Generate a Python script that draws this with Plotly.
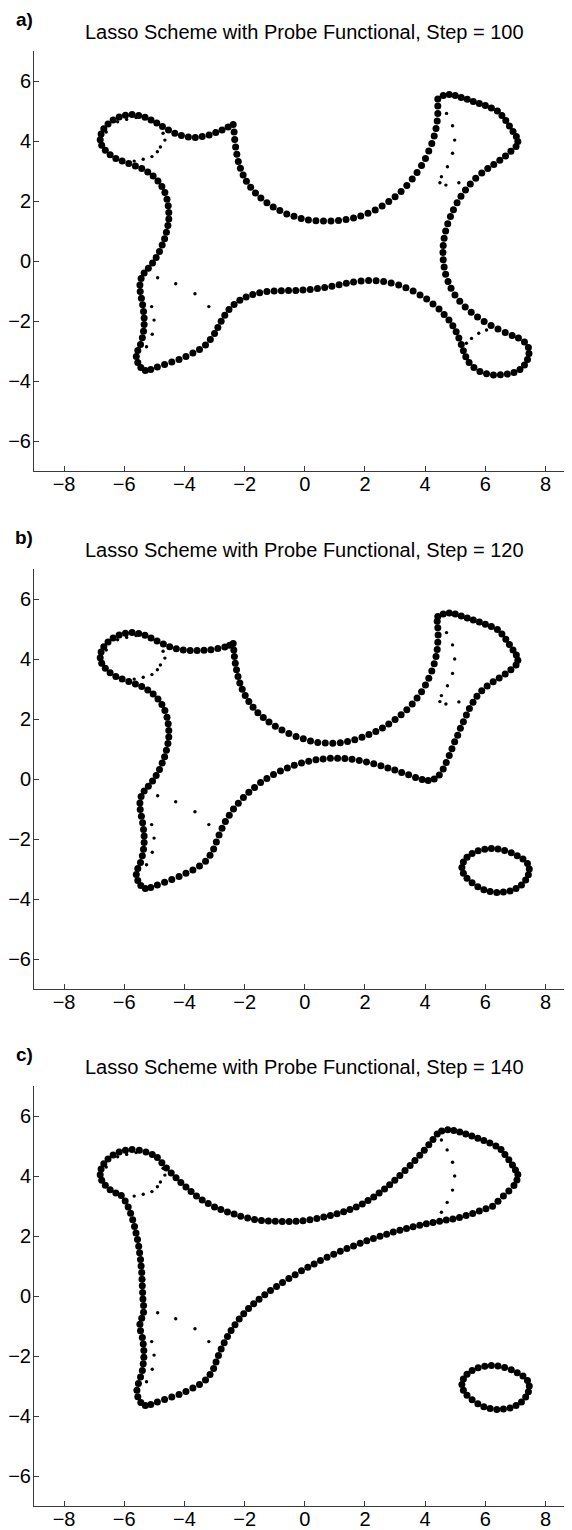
import plotly.graph_objects as go

# ---------------- data (data units) ----------------
titles = ["Lasso Scheme with Probe Functional, Step = 100",
          "Lasso Scheme with Probe Functional, Step = 120",
          "Lasso Scheme with Probe Functional, Step = 140"]
labels = ["a)", "b)", "c)"]
x_ticks = [-8, -6, -4, -2, 0, 2, 4, 6, 8]
y_ticks = [-6, -4, -2, 0, 2, 4, 6]

# panel a: lasso particles (big dots)
lasso_a = [
    (-2.38, 4.55), (-2.35, 4.3), (-2.33, 4.05), (-2.3, 3.8), (-2.26, 3.56), (-2.21, 3.32),
    (-2.14, 3.09), (-2.05, 2.87), (-1.94, 2.66), (-1.8, 2.46), (-1.64, 2.27), (-1.46, 2.1),
    (-1.26, 1.94), (-1.05, 1.8), (-0.83, 1.68), (-0.6, 1.57), (-0.36, 1.49), (-0.12, 1.42),
    (0.12, 1.37), (0.37, 1.34), (0.62, 1.33), (0.87, 1.33), (1.12, 1.35), (1.37, 1.38),
    (1.62, 1.43), (1.86, 1.5), (2.1, 1.59), (2.34, 1.7), (2.57, 1.83), (2.79, 1.98),
    (3.0, 2.14), (3.2, 2.32), (3.39, 2.52), (3.57, 2.73), (3.73, 2.95), (3.88, 3.18),
    (4.01, 3.42), (4.12, 3.67), (4.22, 3.92), (4.3, 4.17), (4.36, 4.42), (4.4, 4.67),
    (4.42, 4.92), (4.42, 5.17), (4.42, 5.4),
    (4.6, 5.52), (4.8, 5.55), (5.0, 5.52), (5.2, 5.45), (5.4, 5.39), (5.6, 5.32), (5.8, 5.25),
    (6.0, 5.18), (6.2, 5.1), (6.4, 5.0), (6.55, 4.85), (6.68, 4.68), (6.8, 4.5), (6.92, 4.32),
    (7.03, 4.15), (7.08, 3.98), (7.02, 3.82),
    (6.85, 3.66), (6.67, 3.5), (6.48, 3.36), (6.28, 3.22), (6.08, 3.08), (5.88, 2.93),
    (5.68, 2.76), (5.5, 2.57), (5.34, 2.37), (5.19, 2.16), (5.06, 1.94), (4.94, 1.71),
    (4.84, 1.48), (4.75, 1.24), (4.68, 1.0), (4.63, 0.76), (4.6, 0.52), (4.59, 0.28),
    (4.6, 0.04), (4.63, -0.2), (4.68, -0.44), (4.76, -0.68), (4.86, -0.91), (4.99, -1.13),
    (5.15, -1.34), (5.33, -1.53), (5.53, -1.71), (5.74, -1.87), (5.96, -2.02), (6.19, -2.15),
    (6.42, -2.27), (6.66, -2.38), (6.89, -2.48), (7.1, -2.57), (7.3, -2.7), (7.43, -2.88),
    (7.45, -3.08), (7.4, -3.28), (7.3, -3.47), (7.15, -3.62), (6.95, -3.72), (6.73, -3.77),
    (6.5, -3.79), (6.27, -3.8), (6.04, -3.76), (5.82, -3.68), (5.62, -3.55), (5.46, -3.38),
    (5.35, -3.19), (5.27, -2.99), (5.2, -2.78), (5.12, -2.57), (5.03, -2.36), (4.92, -2.16),
    (4.79, -1.97), (4.63, -1.78), (4.46, -1.6), (4.26, -1.43), (4.05, -1.27), (3.83, -1.13),
    (3.6, -1.0), (3.36, -0.89), (3.12, -0.8), (2.87, -0.73), (2.62, -0.68), (2.37, -0.66),
    (2.12, -0.65), (1.87, -0.67), (1.62, -0.7), (1.38, -0.74), (1.14, -0.79), (0.9, -0.84),
    (0.66, -0.88), (0.42, -0.92), (0.18, -0.95), (-0.06, -0.97), (-0.3, -0.98), (-0.54, -0.98),
    (-0.78, -0.99), (-1.02, -1.0), (-1.26, -1.02), (-1.5, -1.06), (-1.73, -1.12), (-1.95, -1.2),
    (-2.16, -1.31), (-2.35, -1.45), (-2.52, -1.62), (-2.66, -1.81), (-2.78, -2.01), (-2.89, -2.22),
    (-3.0, -2.42), (-3.14, -2.62), (-3.3, -2.8), (-3.5, -2.95), (-3.72, -3.07), (-3.95, -3.18),
    (-4.18, -3.28), (-4.42, -3.37), (-4.66, -3.45), (-4.9, -3.53), (-5.12, -3.62), (-5.3, -3.65),
    (-5.45, -3.55), (-5.55, -3.38), (-5.6, -3.18), (-5.55, -2.98), (-5.46, -2.78), (-5.4, -2.56),
    (-5.36, -2.34), (-5.34, -2.12), (-5.34, -1.9), (-5.36, -1.68), (-5.39, -1.46), (-5.43, -1.24),
    (-5.47, -1.02), (-5.48, -0.8), (-5.44, -0.58), (-5.34, -0.4), (-5.2, -0.24), (-5.06, -0.07),
    (-4.94, 0.12), (-4.83, 0.32), (-4.74, 0.53), (-4.66, 0.74), (-4.6, 0.96), (-4.55, 1.18),
    (-4.52, 1.4), (-4.52, 1.62), (-4.54, 1.84), (-4.58, 2.06), (-4.65, 2.28), (-4.75, 2.48),
    (-4.88, 2.67), (-5.04, 2.83), (-5.22, 2.97), (-5.42, 3.08), (-5.63, 3.17), (-5.85, 3.25),
    (-6.07, 3.33), (-6.28, 3.42), (-6.47, 3.54), (-6.63, 3.69), (-6.75, 3.86), (-6.8, 4.04),
    (-6.77, 4.23), (-6.68, 4.41), (-6.54, 4.57), (-6.37, 4.7), (-6.17, 4.8), (-5.96, 4.86),
    (-5.74, 4.88), (-5.52, 4.85), (-5.31, 4.79), (-5.11, 4.7), (-4.92, 4.6), (-4.73, 4.48),
    (-4.53, 4.37), (-4.32, 4.26), (-4.1, 4.18), (-3.87, 4.13), (-3.64, 4.12), (-3.41, 4.15),
    (-3.18, 4.2), (-2.96, 4.28), (-2.75, 4.37), (-2.55, 4.47),
]

# panel a: probe functional (small dots)
probe_a = [
    (-6.6, 4.3), (-6.22, 4.64), (-5.92, 4.72), (-5.61, 4.78), (-4.71, 4.26), (-4.65, 4.03),
    (-4.8, 3.8), (-4.9, 3.64), (-5.08, 3.48), (-5.37, 3.39), (-5.67, 3.33),
    (-4.89, -0.56), (-4.29, -0.76), (-3.65, -1.09), (-3.19, -1.52),
    (-5.09, -1.52), (-5.01, -1.97), (-5.07, -2.44), (-5.26, -2.86),
    (4.71, 4.92), (4.91, 4.51), (4.98, 4.03), (4.91, 3.59), (4.74, 3.14), (4.54, 2.81),
    (4.49, 2.61), (4.69, 2.53), (5.12, 2.61),
    (5.37, -2.74), (5.54, -2.58), (5.78, -2.41), (6.04, -2.3),
]

# panel b
lasso_b = [
    (-2.38, 4.52), (-2.36, 4.3), (-2.34, 4.08), (-2.31, 3.86), (-2.27, 3.64), (-2.22, 3.42),
    (-2.16, 3.2), (-2.08, 2.99), (-1.98, 2.78), (-1.86, 2.58), (-1.72, 2.39), (-1.56, 2.21),
    (-1.38, 2.05), (-1.19, 1.9), (-0.98, 1.76), (-0.76, 1.63), (-0.53, 1.52), (-0.29, 1.42),
    (-0.05, 1.34), (0.19, 1.27), (0.43, 1.22), (0.68, 1.2), (0.93, 1.19), (1.18, 1.21),
    (1.42, 1.25), (1.66, 1.31), (1.9, 1.39), (2.13, 1.48), (2.36, 1.58), (2.58, 1.7),
    (2.79, 1.83), (3.0, 1.98), (3.2, 2.14), (3.39, 2.31), (3.57, 2.5), (3.73, 2.7),
    (3.88, 2.91), (4.01, 3.13), (4.12, 3.36), (4.22, 3.6), (4.3, 3.84), (4.36, 4.08),
    (4.4, 4.32), (4.42, 4.56), (4.43, 4.8), (4.42, 5.04), (4.4, 5.26), (4.42, 5.42),
    (4.6, 5.5), (4.8, 5.53), (5.0, 5.5), (5.2, 5.43), (5.4, 5.37), (5.6, 5.3), (5.8, 5.23),
    (6.0, 5.16), (6.2, 5.08), (6.4, 4.98), (6.55, 4.83), (6.68, 4.66), (6.8, 4.48),
    (6.92, 4.3), (7.03, 4.13), (7.08, 3.96), (7.02, 3.8),
    (6.85, 3.64), (6.66, 3.5), (6.46, 3.37), (6.26, 3.24), (6.06, 3.1), (5.88, 2.94),
    (5.72, 2.76), (5.59, 2.56), (5.47, 2.35), (5.37, 2.13), (5.27, 1.91), (5.17, 1.69),
    (5.08, 1.46), (4.98, 1.24), (4.89, 1.01), (4.8, 0.78), (4.7, 0.55), (4.6, 0.33),
    (4.47, 0.13), (4.3, 0.0), (4.1, -0.05), (3.9, -0.02), (3.68, 0.05), (3.45, 0.14),
    (3.22, 0.22), (2.99, 0.3), (2.76, 0.37), (2.53, 0.44), (2.29, 0.51), (2.05, 0.57),
    (1.81, 0.62), (1.57, 0.66), (1.33, 0.68), (1.09, 0.69), (0.85, 0.69), (0.61, 0.67),
    (0.37, 0.64), (0.13, 0.59), (-0.11, 0.53), (-0.35, 0.46), (-0.58, 0.37), (-0.81, 0.27),
    (-1.04, 0.15), (-1.26, 0.02), (-1.47, -0.12), (-1.67, -0.28), (-1.86, -0.44), (-2.04, -0.62),
    (-2.21, -0.81), (-2.37, -1.0), (-2.51, -1.21), (-2.64, -1.42), (-2.75, -1.64), (-2.85, -1.87),
    (-2.94, -2.1), (-3.03, -2.33), (-3.15, -2.54), (-3.3, -2.74), (-3.5, -2.9), (-3.72, -3.03),
    (-3.95, -3.14), (-4.18, -3.25), (-4.42, -3.35), (-4.66, -3.44), (-4.9, -3.53), (-5.12, -3.62),
    (-5.3, -3.65), (-5.45, -3.55), (-5.55, -3.38), (-5.6, -3.18), (-5.55, -2.98), (-5.46, -2.78),
    (-5.4, -2.56), (-5.36, -2.34), (-5.34, -2.12), (-5.34, -1.9), (-5.36, -1.68), (-5.39, -1.46),
    (-5.43, -1.24), (-5.47, -1.02), (-5.48, -0.8), (-5.44, -0.58), (-5.34, -0.4), (-5.2, -0.24),
    (-5.06, -0.07), (-4.94, 0.12), (-4.83, 0.32), (-4.74, 0.53), (-4.66, 0.74), (-4.6, 0.96),
    (-4.55, 1.18), (-4.52, 1.4), (-4.52, 1.62), (-4.54, 1.84), (-4.58, 2.06), (-4.65, 2.28),
    (-4.75, 2.48), (-4.88, 2.67), (-5.04, 2.83), (-5.22, 2.97), (-5.42, 3.08), (-5.63, 3.17),
    (-5.85, 3.25), (-6.07, 3.33), (-6.28, 3.42), (-6.47, 3.54), (-6.63, 3.69), (-6.75, 3.86),
    (-6.8, 4.04), (-6.77, 4.23), (-6.68, 4.41), (-6.54, 4.57), (-6.37, 4.7), (-6.17, 4.8),
    (-5.96, 4.86), (-5.74, 4.88), (-5.52, 4.85), (-5.31, 4.79), (-5.11, 4.7), (-4.91, 4.6),
    (-4.7, 4.5), (-4.49, 4.41), (-4.27, 4.34), (-4.04, 4.3), (-3.81, 4.28), (-3.58, 4.28),
    (-3.35, 4.29), (-3.12, 4.31), (-2.89, 4.35), (-2.66, 4.4), (-2.5, 4.46),
]

probe_b = [
    (-6.6, 4.3), (-6.22, 4.64), (-5.92, 4.72), (-5.61, 4.78), (-4.71, 4.26), (-4.65, 4.03),
    (-4.8, 3.8), (-4.9, 3.64), (-5.08, 3.48), (-5.37, 3.39), (-5.67, 3.33),
    (-4.89, -0.56), (-4.29, -0.76), (-3.65, -1.09), (-3.19, -1.52),
    (-5.09, -1.52), (-5.01, -1.97), (-5.07, -2.44), (-5.26, -2.86),
    (4.71, 4.88), (4.91, 4.47), (4.98, 4.0), (4.91, 3.52), (4.74, 3.11), (4.54, 2.78),
    (4.49, 2.58), (4.69, 2.5), (5.12, 2.57), (5.7, 2.78),
]

island_b = [
    (6.2, -2.32), (6.42, -2.33), (6.64, -2.38), (6.86, -2.46), (7.06, -2.56), (7.25, -2.67),
    (7.4, -2.82), (7.46, -3.0), (7.43, -3.19), (7.34, -3.37), (7.2, -3.53), (7.02, -3.65),
    (6.82, -3.73), (6.6, -3.77), (6.38, -3.78), (6.16, -3.75), (5.95, -3.69), (5.75, -3.59),
    (5.56, -3.46), (5.39, -3.31), (5.27, -3.14), (5.22, -2.95), (5.27, -2.77), (5.39, -2.61),
    (5.56, -2.48), (5.76, -2.39), (5.98, -2.34),
]

# panel c
lasso_c = [
    (-6.1, 3.35), (-5.97, 3.17), (-5.87, 2.97), (-5.79, 2.76), (-5.72, 2.54), (-5.66, 2.32),
    (-5.61, 2.1), (-5.56, 1.88), (-5.52, 1.66), (-5.49, 1.44), (-5.46, 1.22), (-5.44, 1.0),
    (-5.42, 0.78), (-5.41, 0.56), (-5.4, 0.34), (-5.39, 0.12), (-5.38, -0.1), (-5.36, -0.32),
    (-5.36, -0.54), (-5.42, -0.74), (-5.48, -0.94), (-5.46, -1.16), (-5.4, -1.38), (-5.37, -1.6),
    (-5.35, -1.82), (-5.35, -2.04), (-5.37, -2.26), (-5.4, -2.48), (-5.46, -2.7), (-5.53, -2.92),
    (-5.58, -3.14), (-5.55, -3.36), (-5.45, -3.55), (-5.3, -3.65), (-5.12, -3.62), (-4.9, -3.53),
    (-4.66, -3.45), (-4.42, -3.37), (-4.18, -3.28), (-3.95, -3.18), (-3.72, -3.07), (-3.5, -2.95),
    (-3.3, -2.8), (-3.15, -2.62), (-3.03, -2.42), (-2.95, -2.2), (-2.87, -1.98), (-2.78, -1.77),
    (-2.68, -1.56), (-2.57, -1.35), (-2.45, -1.15), (-2.32, -0.96), (-2.18, -0.77), (-2.03, -0.59),
    (-1.87, -0.42), (-1.7, -0.26), (-1.52, -0.11), (-1.33, 0.04), (-1.14, 0.18), (-0.94, 0.32),
    (-0.74, 0.45), (-0.53, 0.58), (-0.32, 0.71), (-0.11, 0.84), (0.1, 0.96), (0.31, 1.07),
    (0.52, 1.18), (0.74, 1.29), (0.96, 1.39), (1.18, 1.49), (1.4, 1.58), (1.62, 1.67),
    (1.84, 1.76), (2.06, 1.84), (2.28, 1.92), (2.5, 1.99), (2.72, 2.06), (2.94, 2.13),
    (3.16, 2.19), (3.38, 2.25), (3.6, 2.31), (3.82, 2.36), (4.04, 2.41), (4.26, 2.45),
    (4.48, 2.49), (4.7, 2.53), (4.92, 2.57), (5.14, 2.62), (5.36, 2.68), (5.58, 2.75),
    (5.8, 2.83), (6.02, 2.91), (6.24, 2.99), (6.42, 3.16), (6.6, 3.33), (6.78, 3.5),
    (6.95, 3.68), (7.05, 3.87), (7.08, 4.05),
    (7.0, 4.2), (6.9, 4.37), (6.78, 4.54), (6.65, 4.72), (6.52, 4.88), (6.35, 5.0),
    (6.15, 5.1), (5.95, 5.18), (5.75, 5.26), (5.55, 5.33), (5.35, 5.4), (5.15, 5.47),
    (4.95, 5.52), (4.75, 5.54), (4.55, 5.5), (4.4, 5.4),
    (4.26, 5.22), (4.12, 5.04), (3.97, 4.86), (3.82, 4.69), (3.66, 4.52), (3.5, 4.35),
    (3.33, 4.18), (3.16, 4.02), (2.99, 3.86), (2.82, 3.71), (2.65, 3.57), (2.47, 3.43),
    (2.29, 3.3), (2.1, 3.18), (1.91, 3.07), (1.71, 2.97), (1.5, 2.88), (1.29, 2.81),
    (1.07, 2.74), (0.85, 2.68), (0.63, 2.63), (0.4, 2.58), (0.17, 2.54), (-0.06, 2.51),
    (-0.29, 2.49), (-0.52, 2.48), (-0.75, 2.48), (-0.98, 2.49), (-1.21, 2.5), (-1.44, 2.52),
    (-1.67, 2.55), (-1.9, 2.6), (-2.13, 2.66), (-2.35, 2.73), (-2.57, 2.8), (-2.79, 2.88),
    (-3.0, 2.97), (-3.21, 3.08), (-3.41, 3.2), (-3.6, 3.33), (-3.78, 3.48), (-3.95, 3.63),
    (-4.12, 3.78), (-4.28, 3.94), (-4.44, 4.1), (-4.6, 4.27), (-4.75, 4.44), (-4.9, 4.62),
    (-5.07, 4.72), (-5.28, 4.8), (-5.5, 4.86), (-5.74, 4.88), (-5.96, 4.86), (-6.17, 4.8),
    (-6.37, 4.7), (-6.54, 4.57), (-6.68, 4.41), (-6.77, 4.23), (-6.8, 4.04), (-6.75, 3.86),
    (-6.63, 3.69), (-6.47, 3.54), (-6.28, 3.43),
]

probe_c = [
    (-6.6, 4.3), (-6.22, 4.64), (-5.92, 4.72), (-5.61, 4.78), (-4.71, 4.26), (-4.65, 4.03),
    (-4.8, 3.8), (-4.9, 3.64), (-5.08, 3.48), (-5.37, 3.39), (-5.67, 3.33),
    (-4.89, -0.56), (-4.29, -0.76), (-3.65, -1.09), (-3.19, -1.52),
    (-5.09, -1.52), (-5.01, -1.97), (-5.07, -2.44), (-5.26, -2.86),
    (4.54, 5.2), (4.73, 4.87), (4.91, 4.46), (4.98, 4.0), (4.91, 3.53), (4.73, 3.12),
    (4.54, 2.79),
]

island_c = list(island_b)

stray_c = [(-8.0, -7.37), (8.0, -7.37)]

# ---------------- figure ----------------
# the page body has an 8 px default margin, so the figure starts at (8, 8)
W, H = 564, 1522
PLOT_LEFT = 26          # px inside the figure
PX_PER_UNIT = 30.09
X_MIN = -9.0
X_MAX = X_MIN + (W - PLOT_LEFT) / PX_PER_UNIT
PLOT_W = W - PLOT_LEFT

panel_tops = [43, 561, 1078]   # px from the figure top
panel_h = 420

FONT = "Liberation Sans, Arial, Helvetica, sans-serif"
AXIS_COLOR = "#3a3a3a"

fig = go.Figure()

panels = [
    (lasso_a, probe_a, None, None),
    (lasso_b, probe_b, island_b, None),
    (lasso_c, probe_c, island_c, stray_c),
]

title_xd = (0 - X_MIN) / (X_MAX - X_MIN)
label_xd = (16 - PLOT_LEFT) / PLOT_W

for i, (lasso, probe, island, stray) in enumerate(panels):
    sfx = "" if i == 0 else str(i + 1)
    xa, ya = "x" + sfx, "y" + sfx
    big = list(lasso) + (list(island) if island else [])
    fig.add_trace(go.Scatter(
        x=[p[0] for p in big], y=[p[1] for p in big], mode="markers",
        marker=dict(size=7, color="black", line=dict(width=0)),
        xaxis=xa, yaxis=ya, showlegend=False, hoverinfo="skip"))
    fig.add_trace(go.Scatter(
        x=[p[0] for p in probe], y=[p[1] for p in probe], mode="markers",
        marker=dict(size=3.4, color="black", line=dict(width=0)),
        xaxis=xa, yaxis=ya, showlegend=False, hoverinfo="skip"))
    if stray:
        fig.add_trace(go.Scatter(
            x=[p[0] for p in stray], y=[p[1] for p in stray], mode="markers",
            marker=dict(size=6, color="black", symbol="circle-open-dot",
                        line=dict(width=1.2, color="black")),
            cliponaxis=False,
            xaxis=xa, yaxis=ya, showlegend=False, hoverinfo="skip"))

    top = panel_tops[i]
    dom = [1 - (top + panel_h) / H, 1 - top / H]
    axis_common = dict(showline=True, linecolor=AXIS_COLOR, linewidth=1,
                       ticks="inside", ticklen=5, tickwidth=1, tickcolor=AXIS_COLOR,
                       showgrid=False, zeroline=False, mirror=False,
                       tickfont=dict(family=FONT, size=20, color="black"))
    fig.layout["xaxis" + sfx] = dict(
        domain=[0, 1], anchor=ya, range=[X_MIN, X_MAX], ticklabelstandoff=-5,
        tickmode="array", tickvals=x_ticks, **axis_common)
    fig.layout["yaxis" + sfx] = dict(
        domain=dom, anchor=xa, range=[-7, 7], ticklabelstandoff=-2,
        tickmode="array", tickvals=y_ticks, **axis_common)

    fig.add_annotation(x=title_xd, y=1 + 19.5 / panel_h,
                       xref=xa + " domain", yref=ya + " domain", text=titles[i],
                       showarrow=False, xanchor="center", yanchor="middle",
                       font=dict(family=FONT, size=20, color="black"))
    fig.add_annotation(x=label_xd, y=1 + 32 / panel_h,
                       xref=xa + " domain", yref=ya + " domain", text=f"<b>{labels[i]}</b>",
                       showarrow=False, xanchor="center", yanchor="middle",
                       font=dict(family=FONT, size=19, color="black"))

fig.update_layout(width=W, height=H, margin=dict(l=PLOT_LEFT, r=0, t=0, b=0),
                  paper_bgcolor="white", plot_bgcolor="white")

fig.write_html("out.html")
